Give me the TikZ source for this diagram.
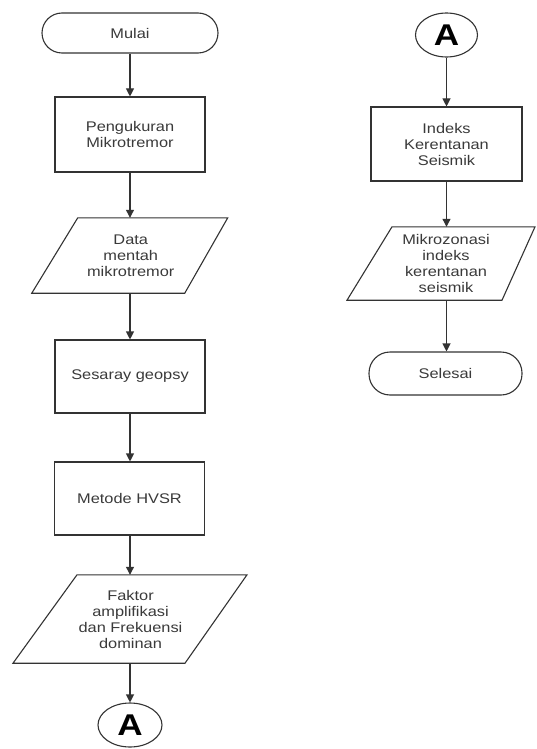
\documentclass[tikz,border=0pt]{standalone}
\usepackage{fontspec}
\setmainfont{Liberation Sans}
\newfontfamily\diafont[FakeStretch=1.17]{Liberation Sans}
\usetikzlibrary{arrows.meta,shapes.geometric}
\definecolor{linec}{HTML}{333333}
\definecolor{textc}{HTML}{3A3A3A}
\begin{document}
\begin{tikzpicture}[x=1pt,y=-1pt,
  lbl/.style={inner sep=0pt, align=center, text=textc,
    font=\diafont\fontsize{14}{16}\selectfont},
  box/.style={lbl, draw=linec, line width=1.1pt, fill=white,
    minimum width=150pt, minimum height=75pt},
  term/.style={box, rounded corners=20pt},
  io/.style={lbl, minimum width=100pt},
  iopath/.style={draw=linec, line width=1.1pt, fill=white},
  conn/.style={ellipse, draw=linec, line width=1.1pt, fill=white,
    minimum width=62pt, minimum height=44pt, inner sep=0pt,
    font=\diafont\bfseries\fontsize{30}{30}\selectfont},
  flow/.style={draw=linec, line width=1.1pt, -{Triangle[length=8pt,width=8pt]}}]
\useasboundingbox (0,0) rectangle (536,749);
\fill[white] (0,0) rectangle (536,749);

% left column
\node[term, minimum width=176pt, minimum height=40pt] (mulai) at (130,33) {Mulai};
\node[box] (peng) at (130,134.5) {Pengukuran\\Mikrotremor};

\node[io, minimum height=75pt] (data) at (130.75,255.5) {};
\path[iopath] ([xshift=-53pt]data.north) -- ([xshift=97pt]data.north)
  -- ([xshift=54pt]data.south) -- ([xshift=-99pt]data.south) -- cycle;
\node[lbl] at (data) {Data\\mentah\\mikrotremor};

\node[box, minimum height=73pt] (sesar) at (130,376.5) {Sesaray geopsy};
\node[box, minimum height=73pt] (hvsr) at (129.5,498.5) {Metode HVSR};

\node[io, minimum height=88pt] (faktor) at (130.5,619) {};
\path[iopath] ([xshift=-53.5pt]faktor.north) -- ([xshift=116.5pt]faktor.north)
  -- ([xshift=54.5pt]faktor.south) -- ([xshift=-117.5pt]faktor.south) -- cycle;
\node[lbl] at (faktor) {Faktor\\amplifikasi\\dan Frekuensi\\dominan};

\node[conn, minimum width=64pt] (a1) at (130,725) {A};

% right column
\node[conn] (a2) at (446.5,35) {A};
\node[box, minimum width=151pt, minimum height=74pt] (indeks) at (446.5,144) {Indeks\\Kerentanan\\Seismik};

\node[io, minimum height=73pt] (mikro) at (444.5,263.5) {};
\path[iopath] ([xshift=-52.5pt]mikro.north) -- ([xshift=90.5pt]mikro.north)
  -- ([xshift=57.5pt]mikro.south) -- ([xshift=-97.5pt]mikro.south) -- cycle;
\node[lbl] at ([xshift=1.5pt]mikro) {Mikrozonasi\\indeks\\kerentanan\\seismik};

\node[term, minimum width=153pt, minimum height=43pt, rounded corners=21pt] (selesai) at (445.5,373.5) {Selesai};

% connectors
\draw[flow] (mulai.south) -- (mulai.south |- peng.north);
\draw[flow] (peng.south) -- (peng.south |- data.north);
\draw[flow] (peng.south |- data.south) -- (peng.south |- sesar.north);
\draw[flow] (sesar.south) -- (sesar.south |- hvsr.north);
\draw[flow] (sesar.south |- hvsr.south) -- (sesar.south |- faktor.north);
\draw[flow] (sesar.south |- faktor.south) -- (sesar.south |- a1.north);

\draw[flow] (a2.south) -- (a2.south |- indeks.north);
\draw[flow] (indeks.south) -- (indeks.south |- mikro.north);
\draw[flow] (indeks.south |- mikro.south) -- (indeks.south |- selesai.north);
\end{tikzpicture}
\end{document}
